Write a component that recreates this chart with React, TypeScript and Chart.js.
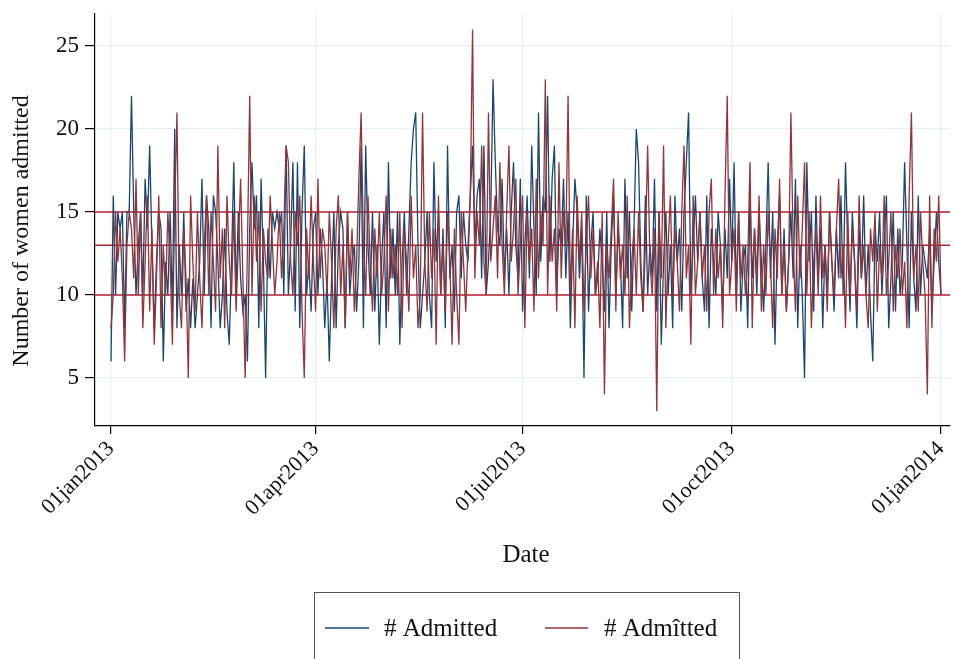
import React, { useEffect, useRef } from "react";
import { Chart, registerables } from "chart.js";

Chart.register(...registerables);

// Days since 01jan2013 for the tick marks, and their labels
const xTickDays = [0, 90, 181, 273, 365];
const xTickLabels = ["01jan2013", "01apr2013", "01jul2013", "01oct2013", "01jan2014"];
const yTicks = [5, 10, 15, 20, 25];
const refLines = [10, 13, 15];

const seriesNames = ["# Admitted", "# Admîtted"];

// Observed daily admissions, 01jan2013 .. 01jan2014
const admitted = [
  6, 16, 10, 15, 14, 15, 8, 15, 15, 22, 15, 10, 13, 15, 10, 17, 14, 19, 13, 8,
  12, 15, 14, 6, 12, 10, 15, 9, 20, 8, 13, 10, 15, 9, 11, 8, 11, 8, 10, 12,
  17, 10, 16, 14, 8, 16, 15, 12, 8, 10, 14, 9, 7, 12, 18, 10, 15, 11, 9, 10,
  6, 14, 18, 14, 16, 8, 17, 12, 5, 14, 11, 15, 14, 15, 14, 15, 10, 19, 10, 13,
  18, 9, 18, 8, 15, 19, 10, 12, 9, 14, 15, 10, 14, 12, 8, 11, 6, 11, 15, 8,
  13, 15, 14, 8, 15, 10, 12, 13, 9, 12, 19, 8, 19, 13, 10, 15, 9, 13, 7, 12,
  15, 8, 18, 11, 14, 10, 15, 7, 12, 15, 10, 14, 18, 20, 21, 13, 8, 10, 12, 15,
  10, 8, 18, 12, 15, 10, 14, 8, 19, 11, 13, 9, 15, 16, 11, 15, 13, 12, 16, 19,
  13, 16, 17, 11, 19, 10, 12, 15, 23, 18, 14, 13, 17, 11, 14, 10, 15, 18, 13, 11,
  17, 9, 13, 16, 11, 19, 14, 10, 21, 12, 16, 15, 22, 12, 17, 19, 10, 14, 13, 17,
  11, 15, 8, 13, 17, 15, 11, 14, 5, 16, 9, 13, 15, 10, 11, 14, 12, 9, 15, 8,
  13, 16, 10, 14, 12, 8, 17, 11, 15, 9, 14, 20, 18, 12, 9, 16, 10, 13, 11, 17,
  9, 15, 7, 12, 15, 10, 13, 8, 16, 12, 14, 9, 15, 18, 21, 10, 13, 16, 12, 15,
  11, 9, 16, 8, 14, 12, 10, 15, 13, 9, 14, 11, 17, 12, 18, 10, 15, 9, 12, 13,
  8, 16, 11, 14, 10, 15, 12, 9, 13, 18, 11, 15, 7, 13, 16, 10, 14, 9, 12, 15,
  11, 17, 8, 13, 10, 5, 18, 12, 15, 9, 16, 11, 14, 8, 13, 10, 15, 12, 9, 14,
  11, 16, 10, 18, 13, 9, 15, 12, 8, 14, 11, 16, 10, 13, 9, 6, 14, 12, 15, 10,
  13, 16, 8, 11, 15, 9, 14, 10, 12, 18, 13, 8, 15, 11, 9, 16, 10, 13, 12, 11,
  14, 9, 12, 15, 12, 10,
];

// Predicted daily admissions
const admittedHat = [
  8, 10, 15, 12, 14, 11, 6, 13, 15, 14, 11, 17, 10, 15, 8, 12, 16, 9, 14, 7,
  11, 16, 8, 13, 10, 15, 12, 7, 15, 21, 10, 8, 14, 11, 5, 16, 12, 9, 15, 11,
  8, 13, 16, 10, 15, 12, 9, 19, 11, 14, 8, 16, 12, 10, 15, 9, 13, 17, 11, 5,
  13, 22, 10, 16, 12, 15, 9, 14, 12, 11, 16, 13, 10, 12, 15, 11, 14, 19, 18, 12,
  10, 15, 13, 16, 9, 5, 14, 11, 16, 12, 9, 17, 11, 14, 13, 10, 15, 12, 8, 14,
  16, 10, 13, 8, 15, 11, 14, 9, 12, 17, 21, 13, 10, 16, 12, 9, 14, 11, 15, 10,
  12, 16, 9, 14, 11, 13, 10, 15, 8, 14, 12, 9, 16, 11, 13, 8, 10, 21, 12, 9,
  15, 11, 14, 7, 16, 10, 13, 9, 15, 12, 7, 14, 10, 7, 15, 12, 9, 13, 16, 26,
  11, 15, 13, 19, 12, 10, 21, 12, 14, 16, 11, 18, 13, 10, 15, 19, 12, 14, 17, 10,
  13, 16, 8, 15, 12, 14, 9, 17, 11, 15, 13, 23, 10, 16, 12, 14, 9, 18, 11, 15,
  13, 22, 10, 14, 8, 16, 12, 15, 9, 13, 16, 11, 14, 10, 12, 8, 15, 4, 13, 11,
  14, 17, 9, 15, 11, 13, 10, 16, 8, 12, 14, 10, 15, 11, 9, 13, 19, 12, 10, 14,
  3, 15, 11, 19, 8, 13, 16, 10, 14, 12, 9, 15, 19, 11, 13, 7, 16, 10, 12, 15,
  11, 13, 9, 15, 17, 10, 14, 11, 13, 8, 16, 22, 10, 12, 14, 9, 15, 11, 13, 10,
  12, 18, 8, 14, 11, 16, 9, 13, 10, 15, 12, 8, 14, 11, 17, 10, 13, 9, 12, 21,
  13, 9, 16, 11, 14, 18, 10, 15, 8, 12, 14, 10, 16, 11, 13, 9, 15, 12, 10, 14,
  17, 11, 13, 8, 15, 10, 14, 12, 9, 16, 11, 13, 10, 8, 14, 12, 15, 9, 13, 11,
  16, 10, 12, 15, 9, 13, 11, 14, 10, 12, 8, 16, 21, 11, 13, 9, 15, 12, 10, 4,
  16, 8, 14, 12, 16, 10,
];

const BLUE = "#1a476f";
const RED = "#90353b";
const REF_RED = "#bd1e30";
const GRID = "#e6eff1";
const TEXT = "#111111";
const FONT = "'Liberation Serif', 'DejaVu Serif', serif";

const refLinePlugin = {
  id: "refLines",
  beforeDatasetsDraw(chart: any) {
    const { ctx, chartArea, scales } = chart;
    ctx.save();
    ctx.strokeStyle = REF_RED;
    ctx.lineWidth = 1.5;
    refLines.forEach((v) => {
      const y = scales.y.getPixelForValue(v);
      ctx.beginPath();
      ctx.moveTo(chartArea.left, y);
      ctx.lineTo(chartArea.right, y);
      ctx.stroke();
    });
    ctx.restore();
  },
};

const annotationPlugin = {
  id: "titlesLegend",
  afterDraw(chart: any) {
    const { ctx, chartArea } = chart;
    ctx.save();
    ctx.fillStyle = TEXT;
    ctx.font = `24px ${FONT}`;
    ctx.textAlign = "center";
    ctx.textBaseline = "middle";
    // y title
    ctx.save();
    ctx.translate(22, (chartArea.top + chartArea.bottom) / 2 + 11);
    ctx.rotate(-Math.PI / 2);
    ctx.fillText("Number of women admitted", 0, 0);
    ctx.restore();
    // x title
    ctx.font = `25px ${FONT}`;
    ctx.fillText("Date", 526, 555);

    // legend box
    ctx.strokeStyle = "#555555";
    ctx.lineWidth = 1;
    ctx.strokeRect(314.5, 592.5, 425, 90);
    const items = [
      { color: BLUE, x0: 325, x1: 369, tx: 384, label: seriesNames[0] },
      { color: RED, x0: 545, x1: 588, tx: 604, label: seriesNames[1] },
    ];
    ctx.textAlign = "left";
    items.forEach((it) => {
      ctx.strokeStyle = it.color;
      ctx.lineWidth = 1.3;
      ctx.beginPath();
      ctx.moveTo(it.x0, 628);
      ctx.lineTo(it.x1, 628);
      ctx.stroke();
      ctx.fillStyle = TEXT;
      ctx.fillText(it.label, it.tx, 629);
    });
    ctx.restore();
  },
};

const zeroPadding = (s: any) => {
  s.paddingLeft = 0;
  s.paddingRight = 0;
  s.paddingTop = 0;
  s.paddingBottom = 0;
};

export default function App() {
  const canvasRef = useRef<HTMLCanvasElement | null>(null);

  useEffect(() => {
    if (!canvasRef.current) return;
    const chart = new Chart(canvasRef.current, {
      type: "line",
      data: {
        datasets: [
          {
            label: seriesNames[0],
            data: admitted.map((v, i) => ({ x: i, y: v })),
            borderColor: BLUE,
            borderWidth: 1.3,
            pointRadius: 0,
            tension: 0,
            order: 1,
          },
          {
            label: seriesNames[1],
            data: admittedHat.map((v, i) => ({ x: i, y: v })),
            borderColor: RED,
            borderWidth: 1.3,
            pointRadius: 0,
            tension: 0,
            order: 0,
          },
        ],
      },
      options: {
        animation: false,
        responsive: false,
        devicePixelRatio: 1,
        layout: { padding: { top: 14, right: 3, left: 0, bottom: 0 } },
        plugins: {
          legend: { display: false },
          tooltip: { enabled: false },
        },
        scales: {
          x: {
            type: "linear",
            min: -7.04,
            max: 368.96,
            afterBuildTicks: (s: any) => {
              s.ticks = xTickDays.map((v) => ({ value: v }));
            },
            afterFit: (s: any) => {
              s.height = 233;
              zeroPadding(s);
            },
            ticks: {
              autoSkip: false,
              minRotation: 45,
              maxRotation: 45,
              padding: 2,
              color: TEXT,
              font: { family: FONT, size: 22 },
              callback: (v: any) => {
                const i = xTickDays.indexOf(Number(v));
                return i >= 0 ? xTickLabels[i] : "";
              },
            },
            grid: { color: GRID, tickColor: "#000", tickLength: 8, lineWidth: 1.2 },
            border: { color: "#000", width: 1.2 },
          },
          y: {
            min: 2.108,
            max: 26.93,
            afterBuildTicks: (s: any) => {
              s.ticks = yTicks.map((v) => ({ value: v }));
            },
            afterFit: (s: any) => {
              s.width = 95;
              zeroPadding(s);
            },
            ticks: {
              padding: 6,
              color: TEXT,
              font: { family: FONT, size: 23 },
            },
            grid: { color: GRID, tickColor: "#000", tickLength: 10, lineWidth: 1.2 },
            border: { color: "#000", width: 1.2 },
          },
        },
      },
      plugins: [refLinePlugin, annotationPlugin],
    });
    return () => chart.destroy();
  }, []);

  return (
    <div style={{ position: "fixed", left: 0, top: 0, width: 953, height: 659, background: "#fff" }}>
      <canvas ref={canvasRef} width={953} height={659} style={{ display: "block" }} />
    </div>
  );
}
